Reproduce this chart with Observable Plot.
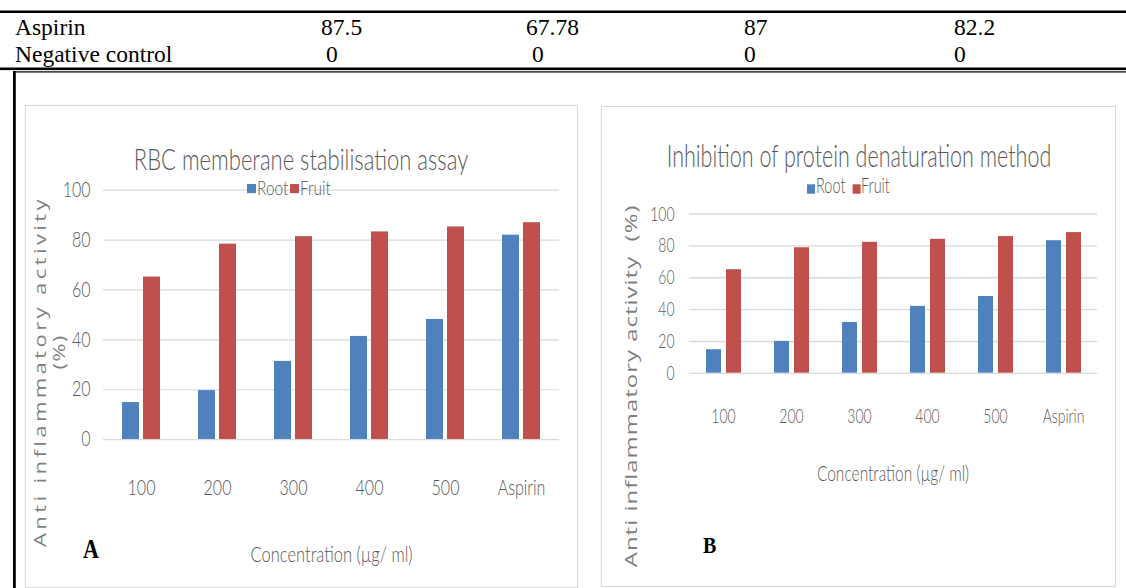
<!DOCTYPE html>
<html>
<head>
<meta charset="utf-8">
<script src="https://cdn.jsdelivr.net/npm/d3@7"></script>
<script src="https://cdn.jsdelivr.net/npm/@observablehq/plot@0.6"></script>
<style>
  html, body { margin: 0; padding: 0; background: #fff; }
  body { width: 1126px; height: 588px; overflow: hidden; position: relative; }
  .panel { position: absolute; border: 1px solid #d9d9d9; box-sizing: border-box; background: #fff; box-shadow: 0 0 1px #e6e6e6; }
  .wrap { position: absolute; transform-origin: 0 0; }
  .wrap svg { position: absolute; left: 0; top: 0; overflow: visible; }
</style>
</head>
<body>
<script>
// ---------- data ----------
const categories = ["100", "200", "300", "400", "500", "Aspirin"];
const series = ["Root", "Fruit"];
const seriesColors = ["#4f81bd", "#c0504d"];
const yTicks = [0, 20, 40, 60, 80, 100];

const rootA  = [14.8, 19.6, 31.3, 41.3, 48.1, 81.9];
const fruitA = [65.1, 78.3, 81.3, 83.2, 85.2, 86.9];
const rootB  = [14.7, 19.9, 31.8, 41.9, 48.1, 83.1];
const fruitB = [64.9, 78.7, 82.1, 84.0, 85.7, 88.2];

const titleA = "RBC memberane stabilisation assay";
const titleB = "Inhibition of protein denaturation method";
const xTitle = "Concentration (µg/ ml)";
const yTitleA = ["Anti inflammatory activity", "(%)"];
const yTitleB = "Anti inflammatory activity\u00a0\u00a0(%)";

const tableRowLabels = ["Aspirin", "Negative control"];
const tableAspirin = ["87.5", "67.78", "87", "82.2"];
const tableNegative = ["0", "0", "0", "0"];

// ---------- page frame (table fragment) ----------
const page = d3.select("body").append("svg")
  .attr("width", 1126).attr("height", 588)
  .style("position", "absolute").style("left", 0).style("top", 0);
page.append("rect").attr("x", 0).attr("y", 10.5).attr("width", 1126).attr("height", 2.5).attr("fill", "#000");
page.append("rect").attr("x", 0).attr("y", 67.5).attr("width", 1126).attr("height", 2.6).attr("fill", "#000");
page.append("rect").attr("x", 13).attr("y", 71.2).attr("width", 1113).attr("height", 1.4).attr("fill", "#222");
page.append("rect").attr("x", 13).attr("y", 71).attr("width", 2.8).attr("height", 520).attr("fill", "#000");
const colX = [[321, 326], [526, 532], [744, 744], [954, 954]];
const rowBase = [35, 62];
const rows = [tableAspirin, tableNegative];
rows.forEach((vals, r) => {
  page.append("text").attr("x", 15).attr("y", rowBase[r]).text(tableRowLabels[r])
    .attr("font-family", "Liberation Serif").attr("font-size", 23.5).attr("fill", "#000");
  vals.forEach((v, i) => {
    page.append("text").attr("x", colX[i][r]).attr("y", rowBase[r]).text(v)
      .attr("font-family", "Liberation Serif").attr("font-size", 23.5).attr("fill", "#000");
  });
});

// ---------- charts ----------
function chart(cfg) {
  const H = cfg.visH / cfg.k;
  const panel = document.createElement("div");
  panel.className = "panel";
  Object.assign(panel.style, {left: cfg.px + "px", top: cfg.py + "px", width: cfg.pw + "px", height: cfg.ph + "px"});
  document.body.appendChild(panel);

  const wrap = document.createElement("div");
  wrap.className = "wrap";
  Object.assign(wrap.style, {left: cfg.left + "px", top: cfg.top + "px", width: cfg.width + "px", height: H + "px", transform: `scaleY(${cfg.k})`});
  document.body.appendChild(wrap);

  const data = categories.flatMap((c, i) => [
    {cat: c, series: "Root", value: cfg.root[i]},
    {cat: c, series: "Fruit", value: cfg.fruit[i]}
  ]);

  const p = Plot.plot({
    width: cfg.width,
    height: H,
    marginTop: cfg.mt, marginBottom: cfg.mb, marginLeft: cfg.ml, marginRight: cfg.mr,
    style: {fontFamily: "Lato", fontWeight: 300, fontSize: cfg.fontSize + "px", color: "#595959", background: "transparent", overflow: "visible"},
    fx: {domain: categories, padding: 0, axis: "bottom", tickSize: 0, tickPadding: cfg.xPad, label: null},
    x: {domain: series, axis: null, paddingInner: cfg.pIn, paddingOuter: cfg.pOut},
    y: {domain: [0, 100], ticks: yTicks, tickSize: 0, tickPadding: cfg.yPad, label: null},
    color: {domain: series, range: seriesColors},
    marks: [
      Plot.gridY(yTicks, {stroke: "#d9d9d9", strokeOpacity: 1, strokeWidth: 0.9}),
      Plot.barY(data, {fx: "cat", x: "series", y: "value", fill: "series"})
    ]
  });
  wrap.appendChild(p);

  const ov = d3.select(wrap).append("svg").attr("width", cfg.width).attr("height", H);
  ov.append("text").attr("x", cfg.titleX).attr("y", cfg.titleY).attr("text-anchor", "middle")
    .attr("font-family", "Lato").attr("font-weight", 300).attr("font-size", cfg.titleSize).attr("fill", "#595959")
    .text(cfg.title);
  cfg.legend.forEach((l, i) => {
    ov.append("rect").attr("x", l.rx).attr("y", cfg.legRectY).attr("width", cfg.legRectW).attr("height", cfg.legRectH).attr("fill", seriesColors[i]);
    ov.append("text").attr("x", l.tx).attr("y", cfg.legY).attr("font-family", "Lato").attr("font-weight", 300)
      .attr("font-size", cfg.legSize).attr("fill", "#595959").text(series[i]);
  });
  ov.append("text").attr("x", cfg.xtX).attr("y", cfg.xtY).attr("text-anchor", "middle")
    .attr("font-family", "Lato").attr("font-weight", 300).attr("font-size", cfg.xtSize).attr("fill", "#595959")
    .text(xTitle);
  cfg.yLines.forEach(l => {
    ov.append("text").attr("transform", `translate(${l.x},${l.y}) rotate(-90)`).attr("text-anchor", "middle")
      .attr("font-family", "Open Sans").attr("font-size", cfg.ytSize).attr("letter-spacing", l.ls)
      .attr("fill", "#7f7f7f").text(l.text);
  });
}

// Chart A
const kA = 1.3;
chart({
  px: 25, py: 105, pw: 553, ph: 483,
  left: 25, top: 105, width: 552, visH: 482, k: kA,
  root: rootA, fruit: fruitA,
  mt: 65.0, mb: 482 / kA - 256.9, ml: 76, mr: 16.4,
  pIn: 0.19, pOut: 0.86, xPad: 31, yPad: 13, fontSize: 16,
  title: titleA, titleX: 276, titleY: 50, titleSize: 22,
  legend: [{rx: 222, tx: 232}, {rx: 265, tx: 275}],
  legRectY: 60.8, legRectW: 9, legRectH: 7, legY: 69.2, legSize: 15.5,
  xtX: 306.6, xtY: 351.5, xtSize: 16.5,
  ytSize: 17,
  yLines: [
    {text: yTitleA[0], x: 21, y: 205, ls: 2.6},
    {text: yTitleA[1], x: 40, y: 190, ls: 1}
  ]
});

// Chart B
const kB = 1.45;
chart({
  px: 601, py: 106, pw: 515, ph: 481,
  left: 602, top: 106, width: 514, visH: 480, k: kB,
  root: rootB, fruit: fruitB,
  mt: 74.0, mb: 480 / kB - 183.9, ml: 87, mr: 18.3,
  pIn: 0.25, pOut: 0.82, xPad: 24, yPad: 15, fontSize: 14,
  title: titleB, titleX: 257, titleY: 42.3, titleSize: 21.5,
  legend: [{rx: 205, tx: 214}, {rx: 250.6, tx: 259}],
  legRectY: 54.0, legRectW: 8, legRectH: 6.5, legY: 60.3, legSize: 14.5,
  xtX: 291, xtY: 258.6, xtSize: 15.5,
  ytSize: 16.5,
  yLines: [
    {text: yTitleB, x: 35, y: 193, ls: 0.7}
  ]
});

// panel letters
const lab = d3.select("body").append("svg")
  .attr("width", 1126).attr("height", 588)
  .style("position", "absolute").style("left", 0).style("top", 0).style("pointer-events", "none");
lab.append("text").attr("transform", "translate(83,558) scale(1,1.2)")
  .attr("font-family", "Liberation Serif").attr("font-weight", "bold").attr("font-size", 22).attr("fill", "#000").text("A");
lab.append("text").attr("transform", "translate(703,552.7) scale(1,1.2)")
  .attr("font-family", "Liberation Serif").attr("font-weight", "bold").attr("font-size", 20).attr("fill", "#000").text("B");
</script>
</body>
</html>
